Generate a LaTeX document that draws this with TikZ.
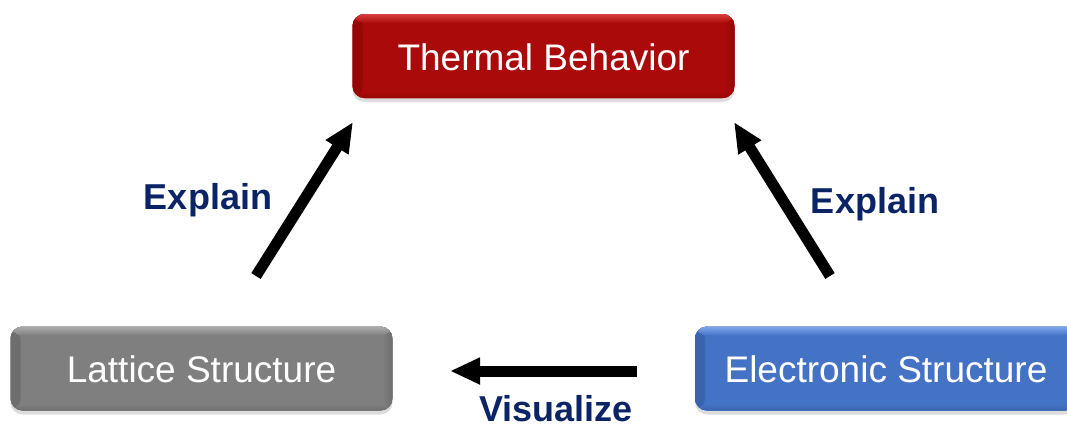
\documentclass[tikz,border=0pt]{standalone}
\usepackage{fontspec}
\setmainfont{Liberation Sans}
\usetikzlibrary{arrows.meta,shadows}
\definecolor{thermred}{HTML}{AA0A0A}
\definecolor{thermredhi}{HTML}{D9403F}
\definecolor{thermredlo}{HTML}{950606}
\definecolor{latgray}{HTML}{7F7F7F}
\definecolor{latgrayhi}{HTML}{ABABAB}
\definecolor{latgraylo}{HTML}{6E6E6E}
\definecolor{elblue}{HTML}{4472C4}
\definecolor{elbluehi}{HTML}{7FA6EA}
\definecolor{elbluelo}{HTML}{3A63AE}
\definecolor{navy}{HTML}{0B2466}
\begin{document}
\begin{tikzpicture}[x=1pt,y=-1pt,
  box/.style={rounded corners=12pt, minimum width=382pt, minimum height=84pt,
    inner sep=0pt, text=white, font=\fontsize{37}{40}\selectfont,
    text height=28pt, text depth=0pt,
    drop shadow={shadow xshift=0pt,shadow yshift=-4pt,opacity=0.28}},
  bevel/.style n args={3}{fill=#1,
    path picture={
      \fill[left color=#3, right color=#1] (path picture bounding box.north west) rectangle ([xshift=10pt]path picture bounding box.south west);
      \fill[left color=#1, right color=#3] ([xshift=-10pt]path picture bounding box.north east) rectangle (path picture bounding box.south east);
      \fill[top color=#2, bottom color=#1] (path picture bounding box.north west) rectangle ([yshift=-9pt]path picture bounding box.north east);
      \fill[top color=#1, bottom color=#3] ([yshift=6pt]path picture bounding box.south west) rectangle (path picture bounding box.south east);
    }},
  conn/.style={line width=11pt, -{Triangle[length=30pt,width=25pt]}},
  lbl/.style={text=navy, font=\fontsize{36}{40}\selectfont\bfseries,
    inner sep=0pt, anchor=base}]
\useasboundingbox (0,0) rectangle (1067,429);
\begin{scope}
\clip (0,0) rectangle (1067,429);
\node[box, bevel={thermred}{thermredhi}{thermredlo}] (therm) at (543.5,56) {Thermal Behavior};
\node[box, bevel={latgray}{latgrayhi}{latgraylo}] (lat) at (201.5,368.5) {Lattice Structure};
\node[box, bevel={elblue}{elbluehi}{elbluelo}] (elec) at (886,368.5) {Electronic Structure};
\end{scope}
\coordinate (la) at (256,276);
\coordinate (lb) at (353,122);
\coordinate (ra) at (830,276);
\coordinate (rb) at (734,122);
\coordinate (va) at (637,371);
\coordinate (vb) at (450,371);
\draw[conn] (la) -- (lb);
\draw[conn] (ra) -- (rb);
\draw[conn] (va) -- (vb);
\node[lbl] (explainl) at (208,209.5) {Explain};
\node[lbl] (explainr) at (875,213) {Explain};
\node[lbl] (visual) at (556,421.5) {Visualize};
\end{tikzpicture}
\end{document}
